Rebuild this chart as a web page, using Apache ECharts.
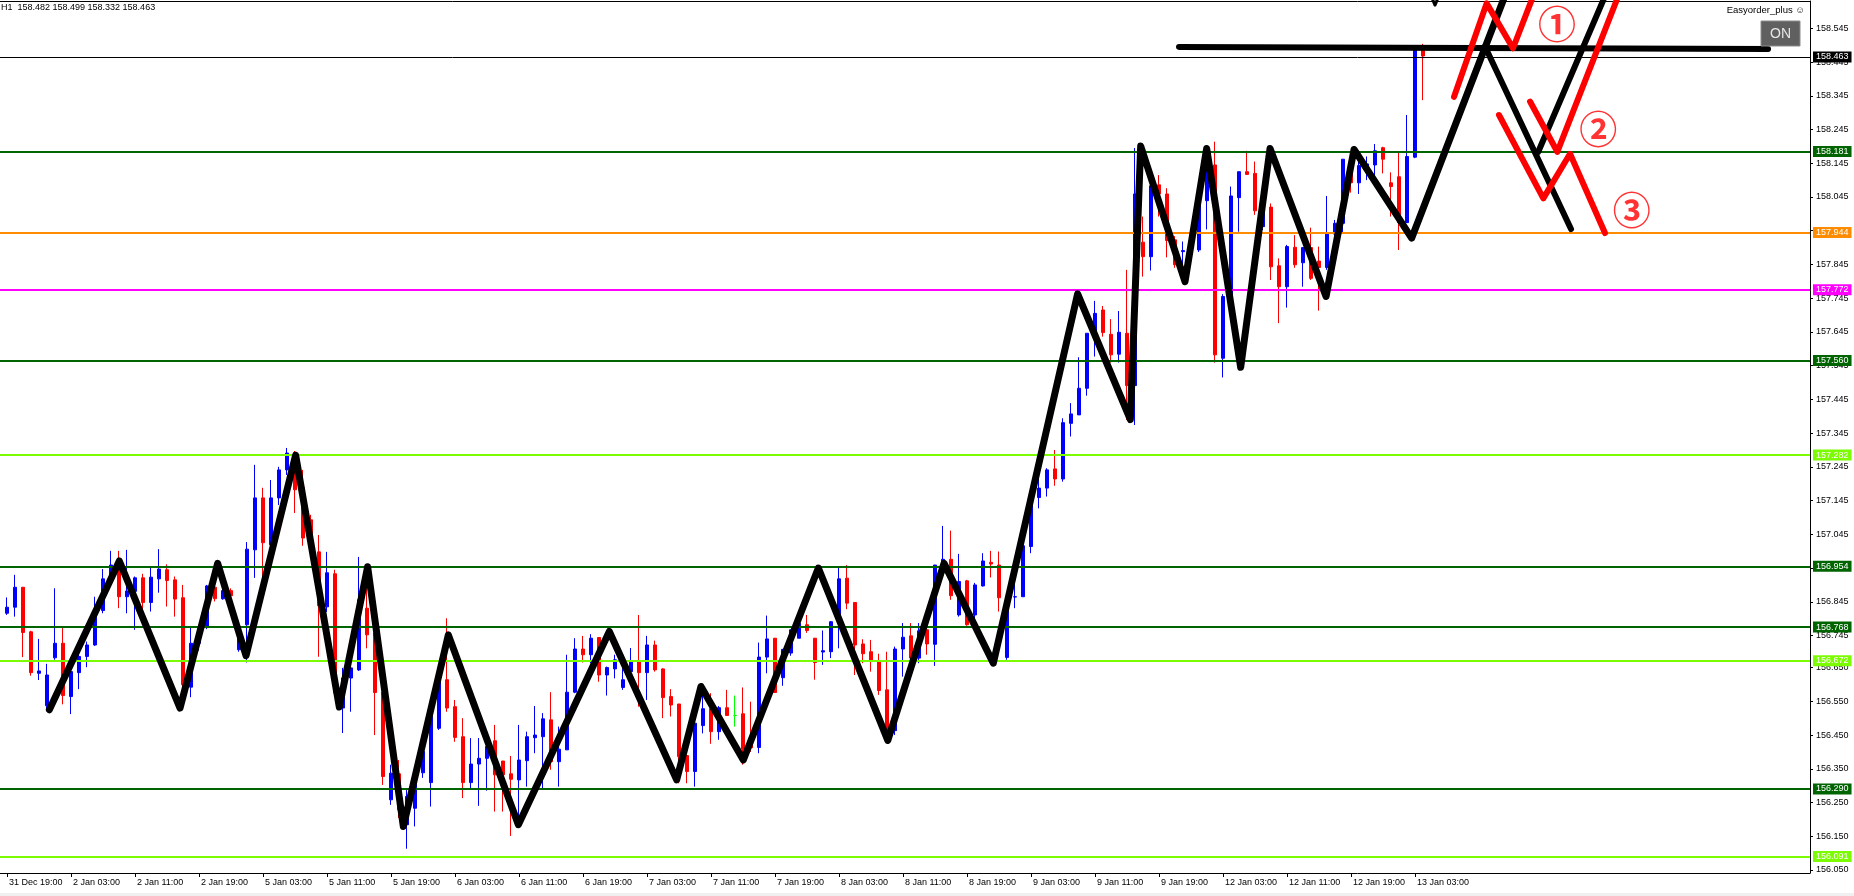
<!DOCTYPE html>
<html><head><meta charset="utf-8">
<script src="https://cdn.jsdelivr.net/npm/echarts@6/dist/echarts.min.js"></script>
<style>html,body{margin:0;padding:0;background:#fff;overflow:hidden}#c{width:1854px;height:896px}</style>
</head><body><div id="c"></div>
<script>
// ---- data ----
const xTickLabels = ['31 Dec 19:00','2 Jan 03:00','2 Jan 11:00','2 Jan 19:00','5 Jan 03:00','5 Jan 11:00','5 Jan 19:00','6 Jan 03:00','6 Jan 11:00','6 Jan 19:00','7 Jan 03:00','7 Jan 11:00','7 Jan 19:00','8 Jan 03:00','8 Jan 11:00','8 Jan 19:00','9 Jan 03:00','9 Jan 11:00','9 Jan 19:00','12 Jan 03:00','12 Jan 11:00','12 Jan 19:00','13 Jan 03:00'];
const barsPerTick = 8;
const yTickValues = [158.545,158.445,158.345,158.245,158.145,158.045,157.945,157.845,157.745,157.645,157.545,157.445,157.345,157.245,157.145,157.045,156.945,156.845,156.745,156.650,156.550,156.450,156.350,156.250,156.150,156.050];

const opens = [156.811,156.829,156.888,156.756,156.633,156.537,156.679,156.722,156.564,156.635,156.683,156.717,156.819,156.913,156.956,156.860,156.876,156.916,156.843,156.913,156.940,156.910,156.857,156.592,156.722,156.771,156.888,156.854,156.878,156.703,
156.777,156.999,157.153,157.014,157.153,157.236,157.286,157.183,157.088,156.993,156.830,156.928,156.530,156.619,156.643,156.826,156.752,156.576,156.258,156.335,
156.184,156.233,156.338,156.309,156.470,156.614,156.534,156.445,156.309,156.364,156.381,156.433,156.373,156.335,156.317,156.374,156.442,156.445,156.495,156.371,
156.406,156.577,156.705,156.688,156.739,156.628,156.646,156.591,156.638,156.668,156.635,156.717,156.646,156.564,156.542,156.389,156.342,156.478,156.528,156.460,
156.531,156.508,156.513,156.441,156.413,156.681,156.737,156.620,156.693,156.737,156.777,156.737,156.696,156.697,156.786,156.915,156.843,156.720,156.697,156.671,
156.584,156.463,156.705,156.744,156.678,156.762,156.719,156.954,156.971,156.806,156.907,156.806,156.892,156.962,156.954,156.680,156.859,156.860,157.009,157.154,
157.182,157.239,157.209,157.374,157.399,157.478,157.641,157.710,157.638,157.579,157.641,157.486,157.911,157.868,158.081,158.054,157.918,157.883,157.882,157.888,
158.034,158.140,157.567,157.750,158.043,158.120,158.115,157.957,158.015,157.841,157.779,157.896,157.850,157.895,157.855,157.836,157.935,157.967,158.135,158.087,
158.137,158.140,158.191,158.087,158.105,157.969,158.163,158.482];
const highs = [156.858,156.925,156.889,156.759,156.735,156.661,156.885,156.767,156.663,156.688,156.727,156.860,156.942,156.996,156.996,156.999,156.920,156.928,156.945,157.001,156.956,156.920,156.895,156.768,156.771,156.895,156.940,156.885,156.885,156.777,
157.022,157.251,157.183,157.206,157.245,157.301,157.292,157.236,157.103,157.043,156.993,156.940,156.649,156.703,156.978,156.949,156.771,156.576,156.362,156.376,
156.287,156.307,156.416,156.505,156.619,156.796,156.554,156.500,156.441,156.441,156.431,156.480,156.373,156.388,156.480,156.460,156.536,156.515,156.577,156.475,
156.688,156.737,156.744,156.749,156.740,156.653,156.688,156.648,156.708,156.806,156.744,156.730,156.648,156.586,156.542,156.389,156.485,156.574,156.574,156.536,
156.584,156.567,156.591,156.549,156.724,156.804,156.737,156.704,156.762,156.803,156.806,156.737,156.760,156.788,156.945,156.954,156.843,156.734,156.732,156.691,
156.697,156.712,156.782,156.782,156.782,156.762,156.954,157.070,157.056,156.987,156.910,156.901,156.989,156.996,156.994,156.862,156.915,157.011,157.137,157.216,
157.241,157.295,157.389,157.434,157.570,157.641,157.737,157.722,157.683,157.707,157.829,158.190,157.987,158.078,158.110,158.071,157.929,157.913,157.918,158.095,
158.189,158.209,157.757,158.076,158.120,158.182,158.150,158.045,158.026,157.863,157.903,157.932,157.895,157.954,157.898,158.048,157.977,158.157,158.175,158.150,
158.165,158.202,158.194,158.118,158.176,158.288,158.495,158.499];
const lows = [156.806,156.801,156.681,156.626,156.613,156.527,156.673,156.541,156.512,156.586,156.651,156.714,156.811,156.905,156.826,156.811,156.762,156.821,156.816,156.872,156.831,156.801,156.533,156.562,156.700,156.764,156.846,156.851,156.860,156.697,
156.665,156.916,156.916,156.969,157.132,157.221,157.108,157.011,157.011,156.682,156.815,156.575,156.456,156.519,156.640,156.707,156.450,156.302,156.243,156.204,
156.113,156.179,156.323,156.238,156.465,156.519,156.430,156.263,156.287,156.240,156.285,156.223,156.223,156.151,156.179,156.297,156.396,156.287,156.347,156.297,
156.406,156.574,156.665,156.663,156.608,156.567,156.618,156.584,156.628,156.534,156.554,156.638,156.500,156.505,156.307,156.307,156.297,156.455,156.424,156.436,
156.508,156.475,156.362,156.400,156.396,156.633,156.576,156.596,156.685,156.737,156.753,156.614,156.658,156.678,156.707,156.823,156.628,156.663,156.638,156.569,
156.450,156.450,156.623,156.653,156.663,156.688,156.655,156.954,156.851,156.801,156.774,156.777,156.890,156.917,156.816,156.673,156.826,156.859,156.989,157.122,
157.157,157.189,157.201,157.335,157.399,157.456,157.572,157.631,157.554,157.554,157.384,157.369,157.809,157.827,157.987,157.866,157.835,157.799,157.870,157.882,
157.949,157.554,157.510,157.750,157.942,158.112,157.992,157.947,157.799,157.671,157.717,157.835,157.779,157.799,157.708,157.829,157.929,157.939,158.058,158.054,
158.095,158.095,158.115,157.987,157.888,157.969,158.160,158.332];
const closes = [156.829,156.888,156.754,156.635,156.640,156.628,156.722,156.567,156.638,156.683,156.717,156.799,156.913,156.954,156.860,156.877,156.916,156.843,156.918,156.942,156.908,156.853,156.599,156.722,156.762,156.892,156.854,156.878,156.863,156.771,
157.001,157.153,157.020,157.153,157.236,157.286,157.177,157.034,157.031,156.833,156.931,156.575,156.619,156.649,156.851,156.747,156.576,156.327,156.337,156.228,
156.268,156.307,156.401,156.505,156.614,156.530,156.443,156.309,156.364,156.381,156.416,156.332,156.332,156.319,156.376,156.445,156.450,156.498,156.371,156.408,
156.577,156.705,156.688,156.737,156.628,156.650,156.673,156.614,156.668,156.635,156.717,156.643,156.561,156.539,156.386,156.342,156.485,156.528,156.460,156.531,
156.508,156.508,156.408,156.412,156.681,156.735,156.576,156.704,156.762,156.781,156.760,156.665,156.700,156.786,156.913,156.841,156.717,156.691,156.668,156.582,
156.455,156.705,156.740,156.678,156.759,156.720,156.954,156.971,156.863,156.905,156.777,156.895,156.966,156.957,156.857,156.860,156.860,157.011,157.137,157.182,
157.236,157.209,157.376,157.402,157.478,157.641,157.700,157.643,157.577,157.644,157.486,158.054,157.868,158.078,158.054,157.916,157.844,157.886,157.894,158.072,
158.189,157.577,157.750,158.048,158.120,158.112,158.004,158.036,157.838,157.779,157.898,157.844,157.895,157.804,157.836,157.935,157.967,158.157,158.087,158.138,
158.143,158.182,158.157,158.076,157.969,158.165,158.481,158.463];

const levelValues = [158.463,158.181,157.944,157.772,157.560,157.282,156.954,156.768,156.672,156.290,156.091];
const levelColors = ['#000000','#006400','#FF8C00','#FF00FF','#006400','#7CFC00','#006400','#006400','#7CFC00','#006400','#7CFC00'];
const levelWidths = [1,2,2,2,2,2,2,2,2,2,2];

// hand-drawn zigzag & projections, in [bar index, price]
const zigzagMain = [[5.29,156.525],[14.04,156.966],[21.63,156.530],[26.33,156.959],[29.88,156.685],[36.08,157.280],[41.54,156.533],[45.08,156.949],[49.54,156.179],[55.17,156.747],[63.92,156.184],[75.29,156.757],[83.71,156.317],[86.75,156.594],[92.04,156.376],[101.42,156.945],[110.1,156.434],[117.13,156.959],[123.29,156.663],[133.83,157.758],[140.42,157.385],[141.71,158.196],[147.25,157.794],[149.96,158.189],[154.21,157.540],[157.88,158.189],[164.88,157.750],[168.38,158.186],[175.58,157.923],[188.0,158.688]];
const blackDown = [[184.75,158.491],[195.5,157.950]];
const blackUp = [[191.41,158.179],[200.61,158.688]];
const blackFlat = [[146.5,158.490],[220.13,158.484]];
const blackMarker = [[177.85,158.650],[178.5,158.614],[179.15,158.650]];
const red1 = [[180.88,158.342],[184.96,158.619],[188.25,158.486],[191.55,158.688]];
const red2 = [[190.38,158.328],[193.79,158.179],[202.19,158.688]];
const red3 = [[186.5,158.288],[192.04,158.041],[195.38,158.173],[199.75,157.938]];
const circleMarks = [[193.75,158.560],[198.91,158.249],[203.09,158.007]];
const circleTexts = ['①','②','③'];

// ---- chart ----
const FONT = "'Liberation Sans', Arial, sans-serif";
const last = opens.length - 1;
const header = 'H1  ' + [opens[last], highs[last], lows[last], closes[last]].map(v => v.toFixed(3)).join(' ');

const candleData = opens.map((o, i) => {
  const item = { value: [i, o, closes[i], lows[i], highs[i]] };
  if (o === closes[i]) item.itemStyle = { color: '#00FF00', color0: '#00FF00', borderColor: '#00FF00', borderColor0: '#00FF00', borderColorDoji: '#00FF00' };
  return item;
});
const xTickVals = xTickLabels.map((_, i) => i * barsPerTick);
const X_MIN = -0.875, X_MAX = 225.375;

function lineSeries(data, color, width, z) {
  return { type: 'line', data, symbol: 'none', clip: true, silent: true, z,
    lineStyle: { color, width, cap: 'round', join: 'round' }, animation: false };
}

const chart = echarts.init(document.getElementById('c'), null, { renderer: 'canvas' });
chart.setOption({
  animation: false,
  backgroundColor: '#ffffff',
  grid: { left: 0, right: 44, top: 1, bottom: 23, containLabel: false },
  xAxis: [{
    type: 'value', min: X_MIN, max: X_MAX, position: 'bottom',
    axisLine: { show: true, onZero: false, lineStyle: { color: '#000', width: 1 } },
    axisTick: { show: true, length: 4, customValues: xTickVals, lineStyle: { color: '#000' } },
    axisLabel: { show: true, customValues: xTickVals, align: 'left', margin: 5, padding: [0,0,0,2],
      color: '#000', fontSize: 9, fontFamily: FONT,
      formatter: v => xTickLabels[Math.round(v / barsPerTick)] },
    splitLine: { show: false }
  }, {
    type: 'value', min: X_MIN, max: X_MAX, position: 'top',
    axisLine: { show: true, onZero: false, lineStyle: { color: '#000', width: 1 } },
    axisTick: { show: false }, axisLabel: { show: false }, splitLine: { show: false }
  }],
  yAxis: {
    type: 'value', min: 156.041, max: 158.626, position: 'right', scale: true,
    axisLine: { show: true, onZero: false, lineStyle: { color: '#000', width: 1 } },
    axisTick: { show: true, length: 3, customValues: yTickValues, lineStyle: { color: '#000' } },
    axisLabel: { show: true, customValues: yTickValues, margin: 6, color: '#000', fontSize: 9, fontFamily: FONT,
      formatter: v => v.toFixed(3) },
    splitLine: { show: false }
  },
  series: [
    {
      type: 'candlestick', data: candleData, barWidth: 4, z: 2, silent: true, clip: true,
      itemStyle: { color: '#0000FF', color0: '#FF0000', borderColor: '#0000FF', borderColor0: '#FF0000', borderColorDoji: '#00FF00', borderWidth: 1 }
    },
    {
      type: 'line', data: [], z: 3, silent: true,
      markLine: {
        symbol: ['none', 'none'], silent: true, animation: false,
        data: levelValues.map((v, i) => ({
          yAxis: v,
          lineStyle: { color: levelColors[i], width: levelWidths[i], type: 'solid' },
          label: { show: true, position: 'end', distance: 3, formatter: v.toFixed(3),
            backgroundColor: levelColors[i], color: '#ffffff', fontSize: 9, fontFamily: FONT,
            lineHeight: 10, padding: [1, 3, 0, 3] }
        }))
      }
    },
    lineSeries(zigzagMain, '#000000', 7, 5),
    lineSeries(blackDown, '#000000', 6, 5),
    lineSeries(blackUp, '#000000', 6, 5),
    lineSeries(blackFlat, '#000000', 6, 5),
    lineSeries(blackMarker, '#000000', 3, 5),
    lineSeries(red1, '#FF0000', 6, 6),
    lineSeries(red2, '#FF0000', 6, 6),
    lineSeries(red3, '#FF0000', 6, 6),
    {
      type: 'scatter', data: circleMarks, symbol: 'circle', symbolSize: 1, z: 7, silent: true,
      itemStyle: { color: 'rgba(0,0,0,0)' },
      label: { show: true, position: 'inside', formatter: p => circleTexts[p.dataIndex],
        color: '#FF0000', fontSize: 38, fontWeight: 'bold', fontFamily: "'Noto Sans CJK JP', 'DejaVu Sans', sans-serif" }
    }
  ],
  graphic: [
    { type: 'text', x: 1, y: 3, z: 10, style: { text: header, fill: '#000', font: '9px ' + FONT } },
    { type: 'text', x: 1805, y: 5, z: 10, style: { text: 'Easyorder_plus \u263A', fill: '#000', font: '9.5px ' + FONT, align: 'right' } },
    { type: 'rect', z: 10, shape: { x: 1761, y: 21, width: 39, height: 25 }, style: { fill: '#606060', stroke: '#8c8c8c', lineWidth: 1 } },
    { type: 'text', x: 1780.5, y: 34, z: 11, style: { text: 'ON', fill: '#e6e6e6', font: '14px ' + FONT, align: 'center', verticalAlign: 'middle' } },
    { type: 'rect', z: 10, shape: { x: 0, y: 893, width: 1854, height: 3 }, style: { fill: '#f0f0f0' } }
  ]
});
</script>
</body></html>
